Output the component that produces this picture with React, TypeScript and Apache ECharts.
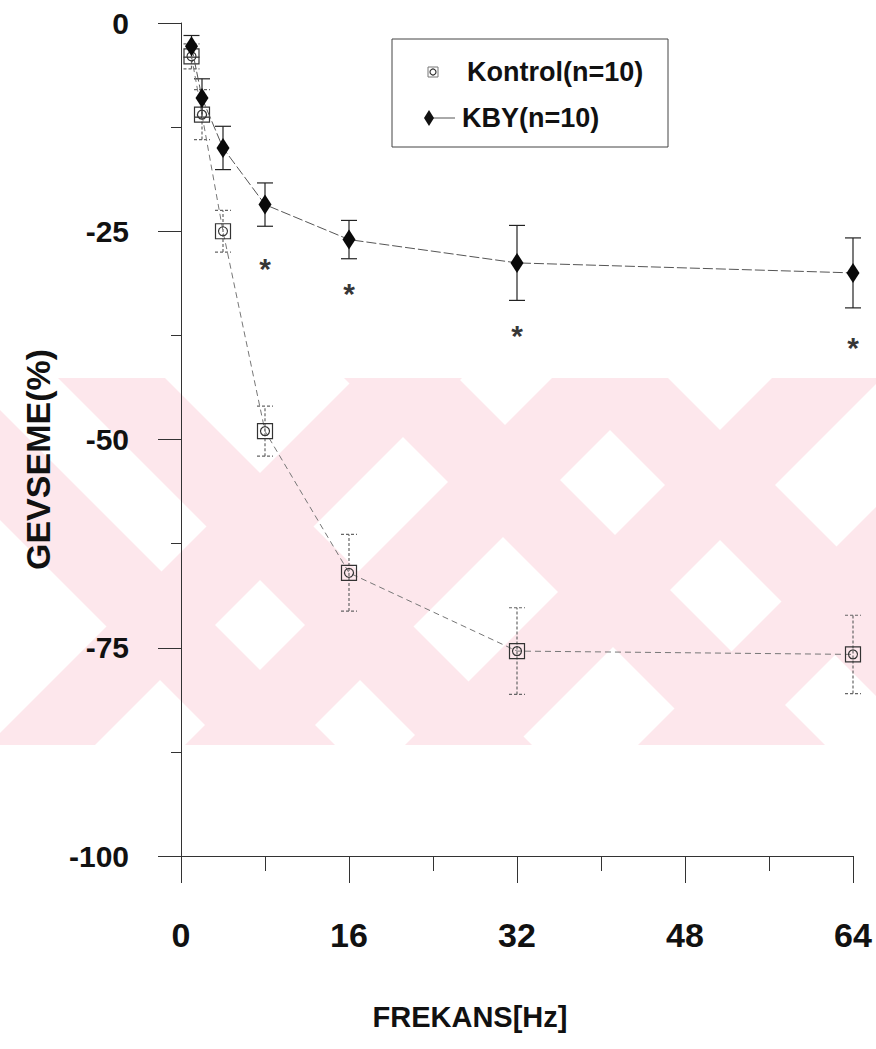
import React, { useEffect, useRef } from 'react';
import * as echarts from 'echarts';

// ---- data ----
const frequencies = [1, 2, 4, 8, 16, 32, 64];
const kontrolMean = [-4, -11, -25, -49, -66, -75.4, -75.8];
const kontrolErr = [1.5, 3, 2.5, 3, 4.6, 5.2, 4.7];
const kbyMean = [-2.8, -9, -15, -21.8, -26, -28.8, -30];
const kbyErr = [1.3, 2.3, 2.6, 2.6, 2.3, 4.5, 4.2];
const sigFreq = [8, 16, 32, 64];
const sigY = [-28.5, -31.5, -36.5, -38];
const seriesNames = ['Kontrol(n=10)', 'KBY(n=10)'];

// ---- decoration (watermark stripes: dir 1 => y - x = c, dir -1 => y + x = c) ----
const wmBands = [
  { dir: 1, c1: 213, c2: 320 },
  { dir: 1, c1: 410, c2: 520 },
  { dir: 1, c1: -80, c2: 34 },
  { dir: 1, c1: -290, c2: -180 },
  { dir: -1, c1: 733, c2: 840 },
  { dir: -1, c1: 930, c2: 1040 },
  { dir: -1, c1: 1150, c2: 1260 },
  { dir: -1, c1: 1383, c2: 1490 },
];
const WM_TOP = 378;
const WM_BOTTOM = 745;

const BOLD = "'Liberation Sans', Arial, sans-serif";

function bandPoly(dir: number, c1: number, c2: number) {
  const y0 = WM_TOP, y1 = WM_BOTTOM;
  if (dir === 1) {
    return [[y0 - c1, y0], [y0 - c2, y0], [y1 - c2, y1], [y1 - c1, y1]];
  }
  return [[c1 - y0, y0], [c2 - y0, y0], [c2 - y1, y1], [c1 - y1, y1]];
}

function errSeries(name: string, xs: number[], means: number[], errs: number[], color: string, dash: any) {
  return {
    type: 'custom',
    name: name + ' SEM',
    silent: true,
    z: 3,
    data: xs.map((x, i) => [x, means[i] - errs[i], means[i] + errs[i]]),
    renderItem: (params: any, api: any) => {
      const x = api.value(0);
      const lo = api.coord([x, api.value(1)]);
      const hi = api.coord([x, api.value(2)]);
      const half = 8;
      const style = { stroke: color, lineWidth: 1.2, lineDash: dash, fill: 'none' };
      return {
        type: 'group',
        children: [
          { type: 'line', shape: { x1: lo[0], y1: lo[1], x2: hi[0], y2: hi[1] }, style },
          { type: 'line', shape: { x1: lo[0] - half, y1: lo[1], x2: lo[0] + half, y2: lo[1] }, style },
          { type: 'line', shape: { x1: hi[0] - half, y1: hi[1], x2: hi[0] + half, y2: hi[1] }, style },
        ],
      };
    },
  };
}

const kontrolSymbol = 'path://M0 0H20V20H0Z M10 4A6 6 0 1 1 9.99 4Z';

export default function App() {
  const ref = useRef<HTMLDivElement>(null);
  useEffect(() => {
    if (!ref.current) return;
    const chart = echarts.init(ref.current, undefined, { renderer: 'svg' });
    const axisColor = '#333';
    const option: any = {
      animation: false,
      backgroundColor: '#ffffff',
      grid: { left: 181, right: 23, top: 23, bottom: 193, containLabel: false },
      xAxis: {
        type: 'value',
        min: 0,
        max: 64,
        interval: 16,
        axisLine: { onZero: false, lineStyle: { color: axisColor, width: 1 } },
        axisTick: { length: 27, lineStyle: { color: axisColor } },
        minorTick: { show: true, splitNumber: 2, length: 15, lineStyle: { color: axisColor } },
        splitLine: { show: false },
        minorSplitLine: { show: false },
        axisLabel: { margin: 62, fontSize: 34, fontWeight: 'bold', fontFamily: BOLD, color: '#111' },
        name: 'FREKANS[Hz]',
        nameLocation: 'middle',
        nameGap: 146,
        nameTextStyle: { fontSize: 29, fontWeight: 'bold', fontFamily: BOLD, color: '#111', padding: [0, 94, 0, 0] },
      },
      yAxis: {
        type: 'value',
        min: -100,
        max: 0,
        interval: 25,
        axisLine: { onZero: false, lineStyle: { color: axisColor, width: 1 } },
        axisTick: { length: 23, lineStyle: { color: axisColor } },
        minorTick: { show: true, splitNumber: 2, length: 10, lineStyle: { color: axisColor } },
        splitLine: { show: false },
        minorSplitLine: { show: false },
        axisLabel: { margin: 52, fontSize: 30, fontWeight: 'bold', fontFamily: BOLD, color: '#111' },
        name: 'GEVSEME(%)',
        nameLocation: 'middle',
        nameGap: 126,
        nameTextStyle: { fontSize: 34, fontWeight: 'bold', fontFamily: BOLD, color: '#111', padding: [0, 40, 0, 0] },
      },
      graphic: [
        {
          type: 'group',
          z: -100,
          silent: true,
          children: wmBands.map((b) => ({
            type: 'polygon',
            z: -100,
            shape: { points: bandPoly(b.dir, b.c1, b.c2) },
            style: { fill: '#fde7ec', stroke: 'none' },
          })),
        },
        {
          type: 'group',
          z: 100,
          children: [
            { type: 'rect', shape: { x: 392, y: 39, width: 276, height: 108 }, style: { fill: '#fff', stroke: '#444', lineWidth: 1 } },
            { type: 'rect', shape: { x: 428, y: 67, width: 10, height: 10 }, style: { fill: 'none', stroke: '#777', lineWidth: 1 } },
            { type: 'circle', shape: { cx: 433, cy: 72, r: 3 }, style: { fill: 'none', stroke: '#333', lineWidth: 1.2 } },
            { type: 'text', x: 467, y: 72, style: { text: seriesNames[0], fontSize: 27, fontWeight: 'bold', fontFamily: BOLD, fill: '#111', verticalAlign: 'middle', align: 'left' } },
            { type: 'line', shape: { x1: 429, y1: 118, x2: 455, y2: 118 }, style: { stroke: '#555', lineWidth: 1 } },
            { type: 'polygon', shape: { points: [[429, 110], [434, 118], [429, 126], [424, 118]] }, style: { fill: '#111' } },
            { type: 'text', x: 462, y: 118, style: { text: seriesNames[1], fontSize: 27, fontWeight: 'bold', fontFamily: BOLD, fill: '#111', verticalAlign: 'middle', align: 'left' } },
          ],
        },
      ],
      series: [
        errSeries(seriesNames[0], frequencies, kontrolMean, kontrolErr, '#666', [3, 2]),
        errSeries(seriesNames[1], frequencies, kbyMean, kbyErr, '#222', null),
        {
          type: 'line',
          name: seriesNames[0],
          data: frequencies.map((x, i) => [x, kontrolMean[i]]),
          symbol: kontrolSymbol,
          symbolSize: 15,
          lineStyle: { color: '#777', width: 1, type: [6, 4] },
          itemStyle: { color: 'rgba(0,0,0,0)', borderColor: '#333', borderWidth: 1.2 },
          z: 4,
        },
        {
          type: 'line',
          name: seriesNames[1],
          data: frequencies.map((x, i) => [x, kbyMean[i]]),
          symbol: 'diamond',
          symbolSize: [13, 20],
          lineStyle: { color: '#555', width: 1, type: [10, 3] },
          itemStyle: { color: '#0a0a0a' },
          z: 5,
        },
        {
          type: 'scatter',
          name: 'p<0.05',
          data: sigFreq.map((x, i) => [x, sigY[i]]),
          symbolSize: 1,
          itemStyle: { color: 'rgba(0,0,0,0)' },
          label: { show: true, formatter: '*', position: 'inside', fontSize: 30, fontWeight: 'bold', fontFamily: BOLD, color: '#000', offset: [0, 8] },
          z: 6,
        },
      ],
    };
    chart.setOption(option);
    return () => chart.dispose();
  }, []);
  return <div ref={ref} style={{ position: 'fixed', left: 0, top: 0, width: 876, height: 1049 }} />;
}
